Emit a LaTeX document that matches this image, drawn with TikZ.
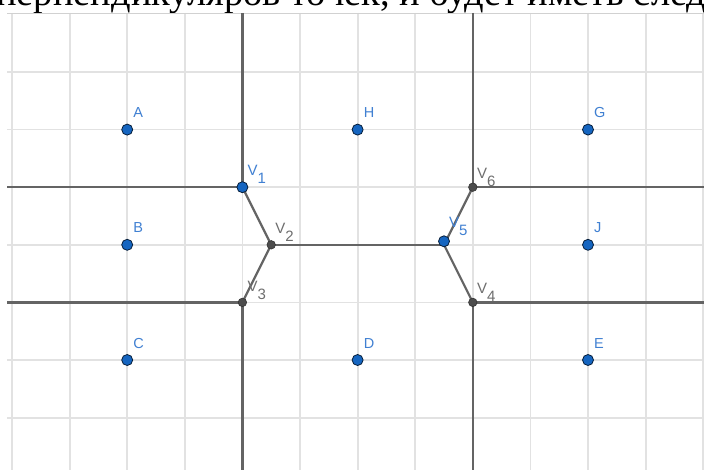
\documentclass[tikz,border=0pt]{standalone}
\usepackage{fontspec}
\usetikzlibrary{calc}
\setmainfont{Liberation Serif}
\newfontfamily\lblfont{Liberation Sans}
\definecolor{gridc}{RGB}{226,226,226}
\definecolor{edgec}{RGB}{100,100,100}
\definecolor{ptblue}{RGB}{21,101,192}
\definecolor{lblblue}{RGB}{64,128,210}
\definecolor{ptgray}{RGB}{77,77,77}
\definecolor{lblgray}{RGB}{110,110,110}
\tikzset{
  gridline/.style={draw=gridc, line width=1.8pt},
  vedge/.style={draw=edgec, line width=2.2pt},
  bluept/.style={circle, fill=ptblue, draw=black!70!ptblue, line width=0.8pt, inner sep=0pt, minimum size=11pt},
  graypt/.style={circle, fill=ptgray, draw=black!80, line width=0.6pt, inner sep=0pt, minimum size=8.5pt},
  plabel/.style={font=\lblfont\fontsize{14.5}{15}\selectfont, text=lblblue, inner sep=0pt, anchor=base west},
  vlabel/.style={font=\lblfont\fontsize{15}{16}\selectfont, inner sep=0pt, anchor=base west},
}
\begin{document}
\begin{tikzpicture}[x=1pt,y=-1pt]
\useasboundingbox (0,0) rectangle (704,473);
\fill[white] (0,0) rectangle (704,473);
% top text
\begin{scope}
\clip (0,0) rectangle (704,473);
\node[anchor=base west, inner sep=0pt, font=\fontsize{38.5}{42}\selectfont] (toptext) at (-4,5.5) {перпендикуляров точек, и будет иметь след};
\end{scope}
% vertex coordinates
\coordinate (v1) at ({12+57.6*4},{14.4+57.6*3});
\coordinate (v2) at ({12+57.6*4.5},{14.4+57.6*4});
\coordinate (v3) at ({12+57.6*4},{14.4+57.6*5});
\coordinate (v4) at ({12+57.6*8},{14.4+57.6*5});
\coordinate (v5) at ({12+57.6*7.5},{14.4+57.6*4});
\coordinate (v6) at ({12+57.6*8},{14.4+57.6*3});
\coordinate (t1) at ({12+57.6*4},13);
\coordinate (l1) at (7,{14.4+57.6*3});
\coordinate (l3) at (7,{14.4+57.6*5});
\coordinate (b3) at ({12+57.6*4},470);
\coordinate (t6) at ({12+57.6*8},13);
\coordinate (r6) at (704,{14.4+57.6*3});
\coordinate (r4) at (704,{14.4+57.6*5});
\coordinate (b4) at ({12+57.6*8},470);
% grid area
\begin{scope}
\clip (7,13) rectangle (704,470);
\fill[white] (7,13) rectangle (704,470);
\foreach \i in {0,...,12} \draw[gridline] ({12+57.6*\i},13) -- ({12+57.6*\i},470);
\foreach \j in {1,...,7} \draw[gridline] (7,{14.4+57.6*\j}) -- (704,{14.4+57.6*\j});
\draw[draw=black!18, line width=1.5pt] (7,13.6) -- (704,13.6);
\draw[vedge] (t1) -- (v1) -- (l1);
\draw[vedge] (v1) -- (v2) -- (v3);
\draw[vedge] (l3) -- (v3) -- (b3);
\draw[vedge] (v2) -- (v5);
\draw[vedge] (t6) -- (v6) -- (r6);
\draw[vedge] (v6) -- (v5) -- (v4);
\draw[vedge] (r4) -- (v4) -- (b4);
\end{scope}
% sites
\foreach \n/\i/\j in {A/2/2, B/2/4, C/2/6, H/6/2, D/6/6, G/10/2, J/10/4, E/10/6}{
  \node[bluept] (p\n) at ({12+57.6*\i},{14.4+57.6*\j}) {};
  \node[plabel] (lab\n) at ($(p\n.center)+(6,-12)$) {\n};
}
% vertices
\node[bluept] (V1) at (v1) {};
\node[graypt] (V2) at (v2) {};
\node[graypt] (V3) at (v3) {};
\node[graypt] (V4) at (v4) {};
\node[bluept] (V5) at ($(v5)+(0,-3.5)$) {};
\node[graypt] (V6) at (v6) {};
\node[vlabel, text=lblblue] (lV1) at ($(v1)+(5,-12)$) {V\raisebox{-8pt}{1}};
\node[vlabel, text=lblgray] (lV2) at ($(v2)+(4,-11)$) {V\raisebox{-8pt}{2}};
\node[vlabel, text=lblgray] (lV3) at ($(v3)+(5,-11)$) {V\raisebox{-8pt}{3}};
\node[vlabel, text=lblgray] (lV4) at ($(v4)+(4,-9)$) {V\raisebox{-8pt}{4}};
\node[vlabel, text=lblblue] (lV5) at ($(v5)+(5,-17)$) {V\raisebox{-8pt}{5}};
\node[vlabel, text=lblgray] (lV6) at ($(v6)+(4,-9)$) {V\raisebox{-8pt}{6}};
\end{tikzpicture}
\end{document}
